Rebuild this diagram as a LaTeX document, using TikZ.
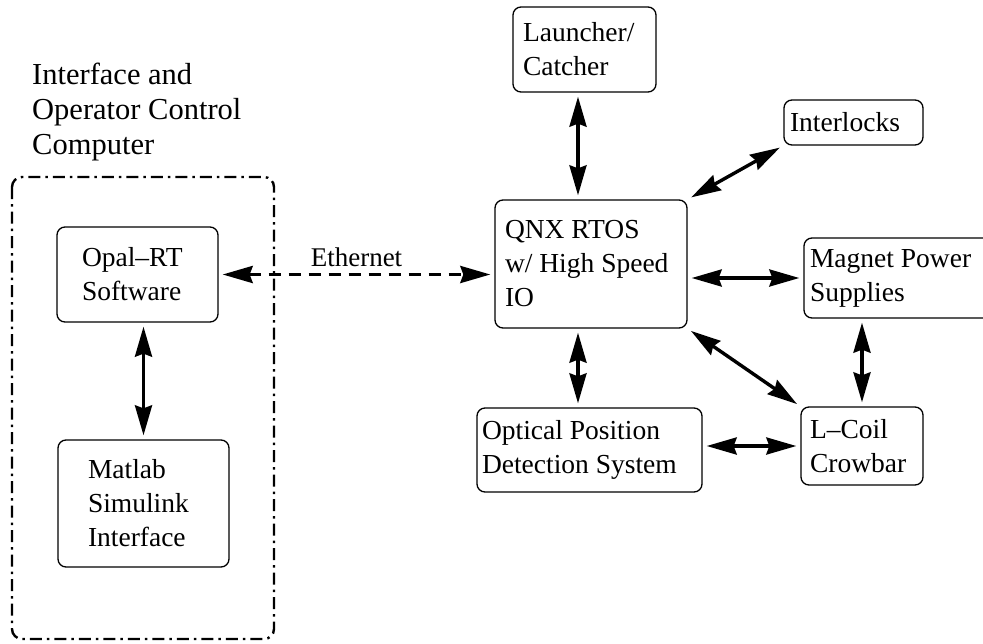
\documentclass[tikz,border=0pt]{standalone}
\usepackage{fontspec}
\setmainfont{Liberation Serif}
\usetikzlibrary{arrows.meta}
\tikzset{
  box/.style={draw, line width=1.3pt, rounded corners=8pt, align=flush left, inner ysep=0pt,
    font=\fontsize{27.5}{34}\selectfont},
  tip/.tip={Stealth[length=30pt,width=17pt,inset=3pt]},
  link/.style={line width=3.4pt, {tip}-{tip}, shorten >=4pt, shorten <=4pt},
  container/.style={line width=2.4pt, rounded corners=10pt, dash pattern=on 12pt off 5pt on 2.5pt off 5pt},
}
\begin{document}
\begin{tikzpicture}[x=1pt,y=-1pt]
\useasboundingbox (0,0) rectangle (983,643);
\clip (0,0) rectangle (983,643);
% left group
\node[anchor=north west, align=flush left, inner sep=0pt, font=\fontsize{30.5}{35}\selectfont] (title) at (32,63)
  {Interface and\\Operator Control\\Computer};
\draw[container] (12,177) rectangle (274,639);
\node[box, minimum width=161pt, minimum height=95pt, inner xsep=25pt, text width=111pt] (opal) at (137.5,274.5)
  {Opal--RT\\Software};
\node[box, minimum width=171pt, minimum height=127pt, inner xsep=30pt, text width=111pt] (matlab) at (143.5,503.5)
  {Matlab\\Simulink\\Interface};
% right group
\node[box, minimum width=143pt, minimum height=85pt, inner xsep=10pt, text width=123pt] (launch) at (584.5,49.5)
  {Launcher/\\Catcher};
\node[box, minimum width=139pt, minimum height=45pt, inner xsep=6pt, text width=127pt] (inter) at (853.5,122.5)
  {Interlocks};
\node[box, minimum width=192pt, minimum height=128pt, inner xsep=10pt, text width=172pt] (qnx) at (591,264)
  {QNX RTOS\\w/ High Speed\\IO};
\node[box, minimum width=188pt, minimum height=80pt, inner xsep=6pt, text width=176pt] (magnet) at (898,278)
  {Magnet Power\\Supplies};
\node[box, minimum width=225pt, minimum height=84pt, inner xsep=5pt, text width=215pt] (optical) at (589.5,450)
  {Optical Position\\Detection System};
\node[box, minimum width=122pt, minimum height=78pt, inner xsep=9pt, text width=104pt] (lcoil) at (862,446)
  {L--Coil\\Crowbar};
% connectors
\draw[link] (matlab.north |- opal.south) -- (matlab.north);
\draw[link, dash pattern=on 12pt off 8pt] (opal.east) -- node[above=3pt, font=\fontsize{27}{32}\selectfont] (eth) {Ethernet} (opal.east -| qnx.west);
\draw[link] ([xshift=-6.5pt]launch.south) -- ([xshift=-6.5pt]launch.south |- qnx.north);
\draw[link] (inter.south west) -- (qnx.north east);
\draw[link] (magnet.west -| qnx.east) -- (magnet.west);
\draw[link] ([xshift=-13pt]qnx.south) -- ([xshift=-13pt]qnx.south |- optical.north);
\draw[link] (qnx.south east) -- (lcoil.north west);
\draw[link] (lcoil.north |- magnet.south) -- (lcoil.north);
\draw[link] (optical.east |- lcoil.west) -- (lcoil.west);
\end{tikzpicture}
\end{document}
